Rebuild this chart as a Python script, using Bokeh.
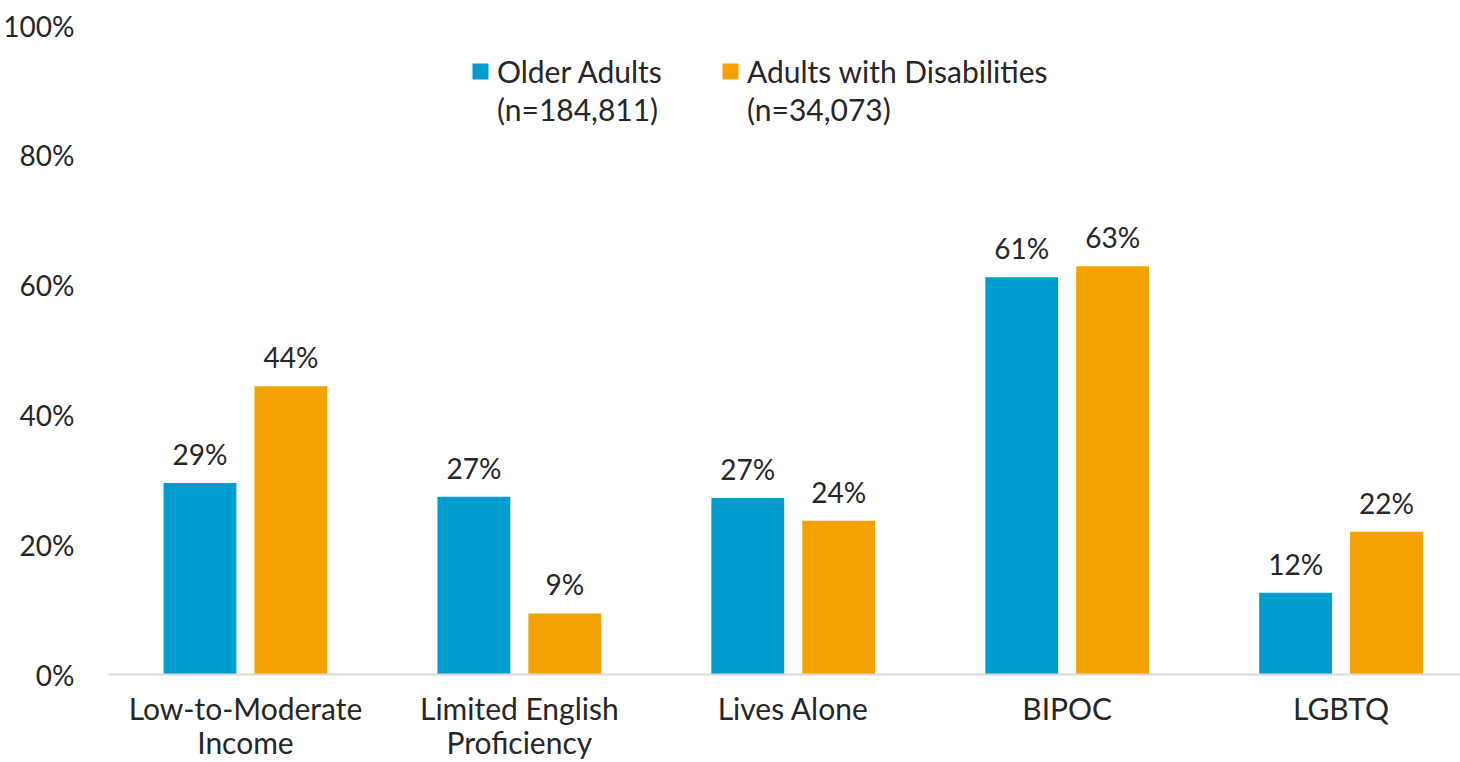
from bokeh.plotting import figure
from bokeh.models import (ColumnDataSource, Range1d, FixedTicker, PrintfTickFormatter,
                          Legend, LegendItem)
from bokeh.core.properties import value
from bokeh.embed import file_html
from bokeh.resources import INLINE

# ---- data ----
categories = ["Low-to-Moderate\nIncome", "Limited English\nProficiency", "Lives Alone", "BIPOC", "LGBTQ"]
older_adults = [29.5, 27.4, 27.2, 61.2, 12.6]
older_labels = ["29%", "27%", "27%", "61%", "12%"]
disabilities = [44.4, 9.4, 23.7, 62.9, 22.0]
disab_labels = ["44%", "9%", "24%", "63%", "22%"]
series_names = ["Older Adults", "Adults with Disabilities"]
series_counts = ["(n=184,811)", "(n=34,073)"]
y_ticks = [0, 20, 40, 60, 80, 100]

BLUE = "#009ECE"
ORANGE = "#F4A200"
TEXT = "#262626"
FONT = "Lato"
FS = "30px"
FS_NUM = "28px"

idx = list(range(len(categories)))
off = 0.166
bw = 0.266

src_a = ColumnDataSource(dict(x=[i - off for i in idx], top=older_adults, lab=older_labels))
src_b = ColumnDataSource(dict(x=[i + off for i in idx], top=disabilities, lab=disab_labels))

p = figure(width=1460, height=762, output_backend="svg", toolbar_location=None,
           x_range=Range1d(-0.5, 4.436), y_range=Range1d(0, 100),
           min_border_left=105, min_border_right=0, min_border_top=25, min_border_bottom=87)
p.outline_line_color = None
p.xgrid.visible = False
p.ygrid.visible = False
p.background_fill_color = "white"
p.border_fill_color = "white"

ra = p.vbar(x="x", top="top", width=bw, source=src_a, fill_color=BLUE, line_color=None)
rb = p.vbar(x="x", top="top", width=bw, source=src_b, fill_color=ORANGE, line_color=None)
# invisible renderer used for the second legend row (sample sizes)
rh = p.vbar(x=[], top=[], width=bw, fill_alpha=0, line_alpha=0)

for s in (src_a, src_b):
    p.text(x="x", y="top", text="lab", source=s, y_offset=-12,
           text_align="center", text_baseline="bottom", text_color=TEXT,
           text_font=value(FONT), text_font_size=FS_NUM)

# y axis
p.yaxis.ticker = FixedTicker(ticks=y_ticks)
p.yaxis.formatter = PrintfTickFormatter(format="%d%%")
p.yaxis.axis_line_color = None
p.yaxis.major_tick_line_color = None
p.yaxis.minor_tick_line_color = None
p.yaxis.major_label_standoff = 28
p.yaxis.major_label_text_font = FONT
p.yaxis.major_label_text_font_size = FS_NUM
p.yaxis.major_label_text_color = TEXT

# x axis
p.xaxis.ticker = FixedTicker(ticks=idx)
p.xaxis.major_label_overrides = {i: c for i, c in zip(idx, categories)}
p.xaxis.axis_line_color = "#D9D9D9"
p.xaxis.axis_line_width = 2
p.xaxis.major_tick_line_color = None
p.xaxis.minor_tick_line_color = None
p.xaxis.major_label_standoff = 9
p.xaxis.major_label_text_font = FONT
p.xaxis.major_label_text_font_size = FS
p.xaxis.major_label_text_color = TEXT
p.xaxis.major_label_text_line_height = 0.95

legend = Legend(items=[LegendItem(label=series_names[0], renderers=[ra]),
                       LegendItem(label=series_names[1], renderers=[rb]),
                       LegendItem(label=series_counts[0], renderers=[rh]),
                       LegendItem(label=series_counts[1], renderers=[rh])],
                orientation="horizontal", ncols=2, location=(362, 547),
                glyph_width=20, glyph_height=20, label_standoff=7, spacing=2,
                label_width=221,
                padding=0, margin=0, border_line_color=None,
                background_fill_alpha=0,
                label_text_font=FONT, label_text_font_size=FS, label_text_color=TEXT,
                label_height=30)
p.add_layout(legend, "center")

open("out.html", "w").write(file_html(p, INLINE))
